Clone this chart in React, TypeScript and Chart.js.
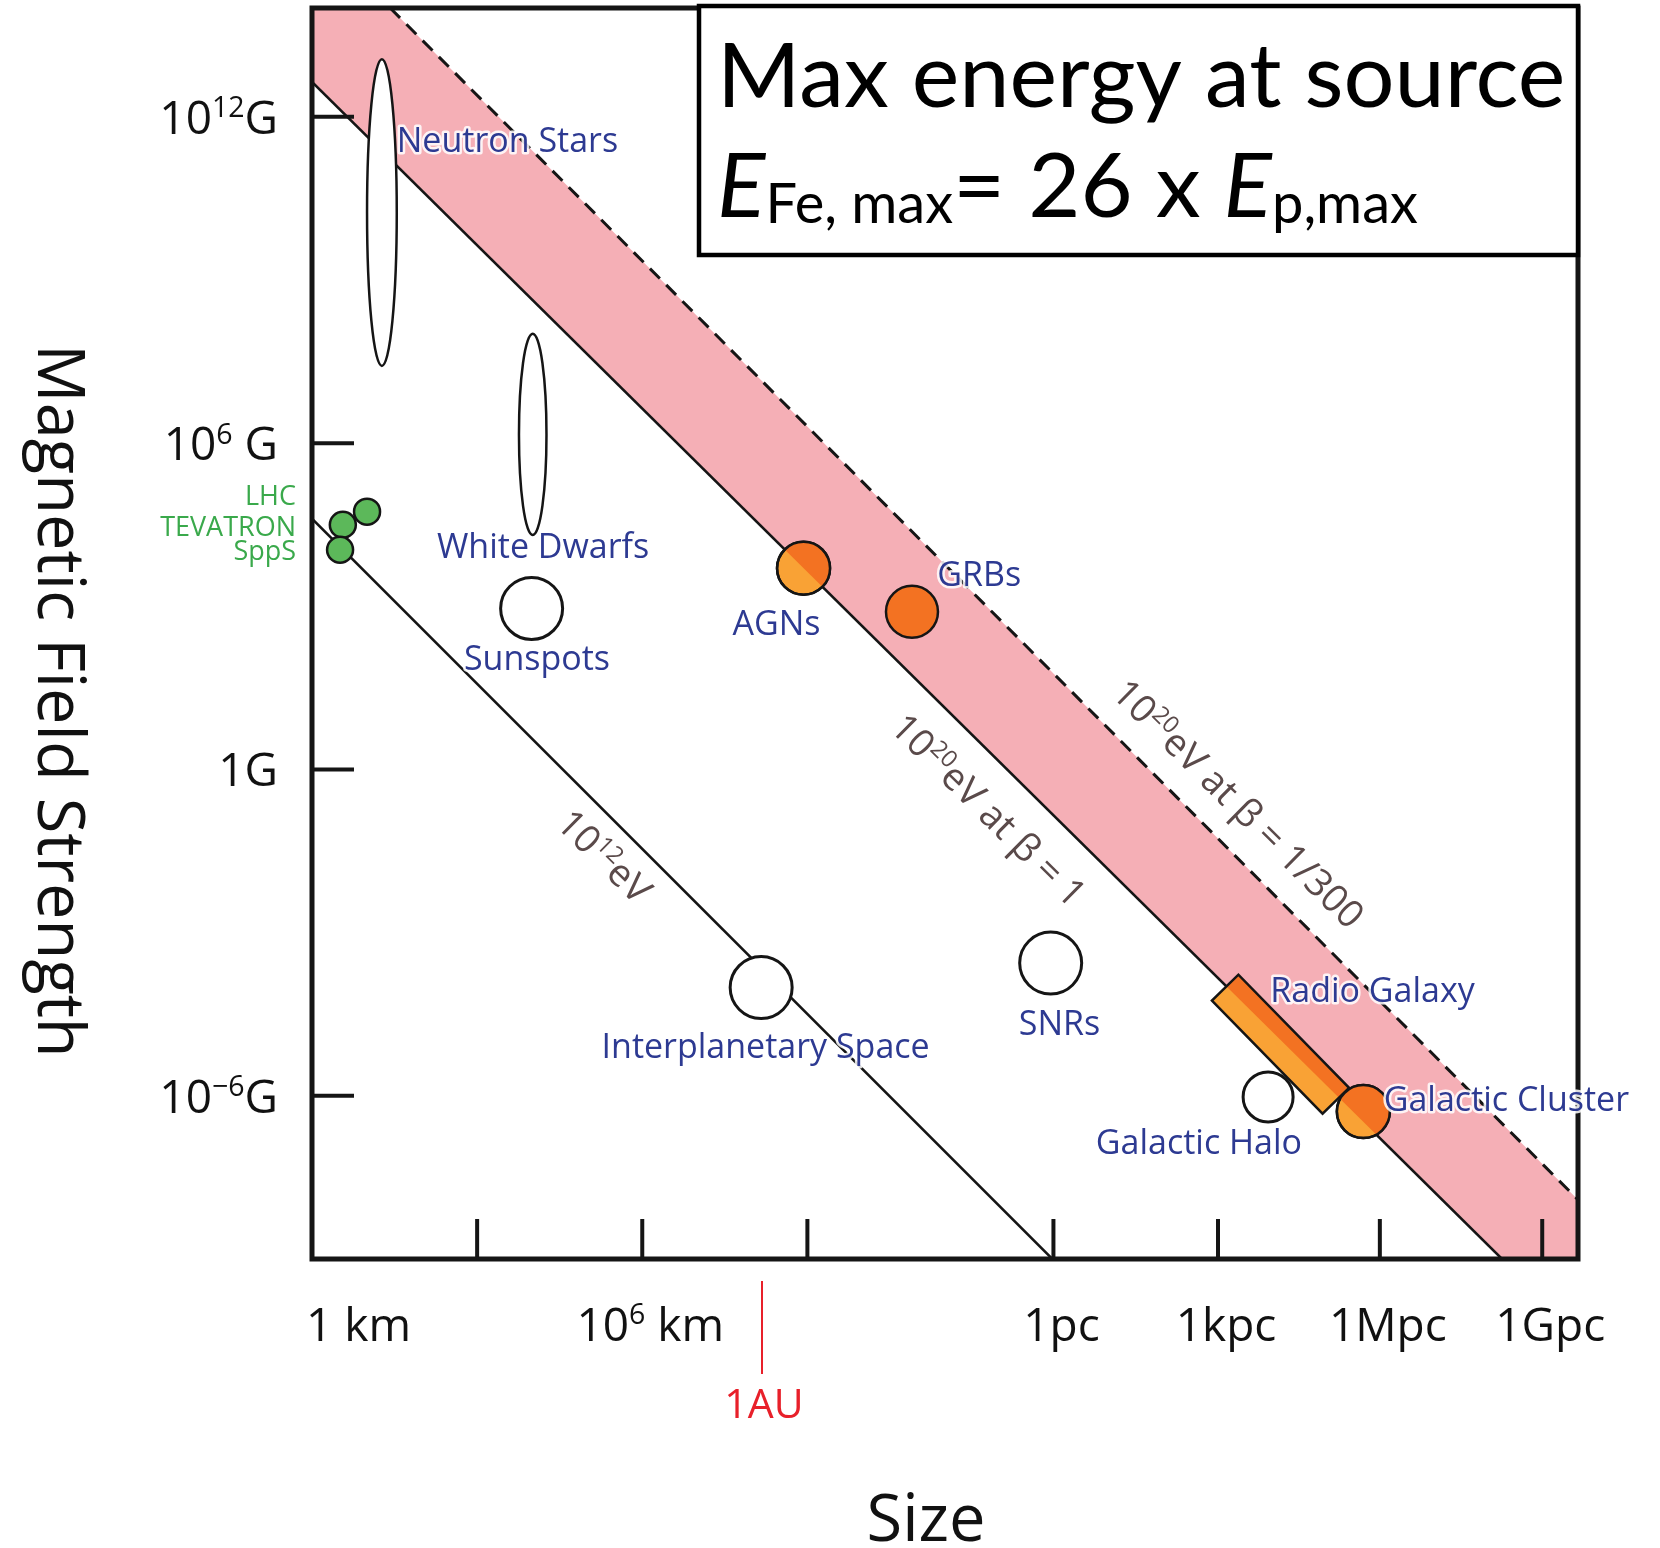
import React, { useEffect, useRef } from 'react';
import { Chart, registerables } from 'chart.js';

Chart.register(...registerables);

// ---------------- data (x = log10(size / km), y = log10(B / gauss)) ----------------
const xLimits = [0, 23];
const yLimits = [-9, 14];

const xTickValues = [0, 3, 6, 9, 13.47, 16.46, 19.4, 22.35];
const xTickLabels = ['1 km', '', '10^{6} km', '', '1pc', '1kpc', '1Mpc', '1Gpc'];
const yTickValues = [12, 6, 0, -6];
const yTickLabels = ['10^{12}G', '10^{6} G', '1G', '10^{−6}G'];

const auValue = 8.175;
const auLabel = '1AU';

const line12eV = [{ x: 0, y: 4.61 }, { x: 13.45, y: -9 }];
const line20eVBeta1 = [{ x: 0, y: 12.64 }, { x: 21.62, y: -9 }];
const line20eVBeta300 = [{ x: 1.42, y: 14 }, { x: 23, y: -7.91 }];

const plainSources = [
  { x: 3.99, y: 2.96 }, // Sunspots
  { x: 8.16, y: -4.01 }, // Interplanetary space
  { x: 13.42, y: -3.56 }, // SNRs
];
const haloSource = [{ x: 17.37, y: -6.02 }];
const accelerators = [
  { x: 0.56, y: 4.5 },
  { x: 1.0, y: 4.74 },
  { x: 0.51, y: 4.04 },
];
const grbSource = [{ x: 10.9, y: 2.9 }];
const mixedSources = [
  { x: 8.93, y: 3.7 }, // AGNs
  { x: 19.1, y: -6.29 }, // Galactic cluster
];

const neutronStarRange = { x: [1.0, 1.54], y: [7.42, 13.06] };
const whiteDwarfRange = { x: [3.76, 4.26], y: [4.31, 8.01] };
const radioGalaxySegment = [{ x: 16.59, y: -4.01 }, { x: 18.6, y: -6.09 }];

const sourceLabels = [
  { text: 'Neutron Stars', x: 1.54, y: 11.36 },
  { text: 'White Dwarfs', x: 2.27, y: 3.89 },
  { text: 'Sunspots', x: 2.76, y: 1.83 },
  { text: 'AGNs', x: 7.64, y: 2.47 },
  { text: 'GRBs', x: 11.36, y: 3.38 },
  { text: 'Interplanetary Space', x: 5.26, y: -5.31 },
  { text: 'SNRs', x: 12.84, y: -4.89 },
  { text: 'Radio Galaxy', x: 17.41, y: -4.28 },
  { text: 'Galactic Cluster', x: 19.47, y: -6.27 },
  { text: 'Galactic Halo', x: 14.24, y: -7.07 },
];
const acceleratorLabels = [
  { text: 'LHC', x: -0.29, y: 4.86 },
  { text: 'TEVATRON', x: -0.29, y: 4.3 },
  { text: 'SppS', x: -0.29, y: 3.86 },
];
const lineLabels = [
  { text: '10^{12}eV', x: 5.32, y: -1.59 },
  { text: '10^{20}eV at β = 1', x: 12.3, y: -0.74 },
  { text: '10^{20}eV at β = 1/300', x: 16.84, y: -0.62 },
];

const xTitle = 'Size';
const yTitle = 'Magnetic Field Strength';
const boxTitle = 'Max energy at source';

// ---------------- styles ----------------
const INK = '#151515';
const PINK = 'rgb(245,175,182)';
const ORANGE_DARK = '#f37222';
const ORANGE_LIGHT = '#f9a235';
const GREEN = '#5cb85a';
const BLUE = '#2d3a92';
const GREEN_TEXT = '#3aa94b';
const GREY_TEXT = '#5a4a4a';
const RED = '#e8202a';
const SANS = '"Open Sans", "Noto Sans", sans-serif';
const GILL = 'Lato, "Open Sans", sans-serif';

type Seg = { t: string; sup?: boolean };
function parseRich(s: string): Seg[] {
  const out: Seg[] = [];
  const re = /\^\{([^}]*)\}/g;
  let last = 0;
  let m: RegExpExecArray | null;
  while ((m = re.exec(s))) {
    if (m.index > last) out.push({ t: s.slice(last, m.index) });
    out.push({ t: m[1], sup: true });
    last = re.lastIndex;
  }
  if (last < s.length) out.push({ t: s.slice(last) });
  return out;
}

function drawRich(
  ctx: CanvasRenderingContext2D,
  s: string,
  x: number,
  y: number,
  size: number,
  family: string,
  align: 'left' | 'center' | 'right',
  halo = false
) {
  const segs = parseRich(s);
  const supSize = size * 0.62;
  const widths = segs.map((sg) => {
    ctx.font = `${sg.sup ? supSize : size}px ${family}`;
    return ctx.measureText(sg.t).width;
  });
  const total = widths.reduce((a, b) => a + b, 0);
  let cx = align === 'left' ? x : align === 'center' ? x - total / 2 : x - total;
  ctx.textAlign = 'left';
  ctx.textBaseline = 'alphabetic';
  segs.forEach((sg, i) => {
    ctx.font = `${sg.sup ? supSize : size}px ${family}`;
    const yy = sg.sup ? y - size * 0.36 : y;
    if (halo) {
      ctx.save();
      ctx.strokeStyle = 'rgba(255,255,255,0.85)';
      ctx.lineWidth = 5;
      ctx.lineJoin = 'round';
      ctx.strokeText(sg.t, cx, yy);
      ctx.restore();
    }
    ctx.fillText(sg.t, cx, yy);
    cx += widths[i];
  });
}

function toPx(chart: any, p: { x: number; y: number }): [number, number] {
  return [chart.scales.x.getPixelForValue(p.x), chart.scales.y.getPixelForValue(p.y)];
}

function bandPath(ctx: CanvasRenderingContext2D, chart: any) {
  const ext = (a: [number, number], b: [number, number]) => {
    const dx = b[0] - a[0];
    const dy = b[1] - a[1];
    return [
      [a[0] - dx, a[1] - dy],
      [b[0] + dx, b[1] + dy],
    ];
  };
  const [a1, a2] = ext(toPx(chart, line20eVBeta1[0]), toPx(chart, line20eVBeta1[1]));
  const [b1, b2] = ext(toPx(chart, line20eVBeta300[0]), toPx(chart, line20eVBeta300[1]));
  ctx.beginPath();
  ctx.moveTo(a1[0], a1[1]);
  ctx.lineTo(a2[0], a2[1]);
  ctx.lineTo(b2[0], b2[1]);
  ctx.lineTo(b1[0], b1[1]);
  ctx.closePath();
}

function drawEllipse(ctx: CanvasRenderingContext2D, chart: any, r: { x: number[]; y: number[] }) {
  const xs = chart.scales.x;
  const ys = chart.scales.y;
  const x0 = xs.getPixelForValue(r.x[0]);
  const x1 = xs.getPixelForValue(r.x[1]);
  const y0 = ys.getPixelForValue(r.y[0]);
  const y1 = ys.getPixelForValue(r.y[1]);
  ctx.beginPath();
  ctx.ellipse((x0 + x1) / 2, (y0 + y1) / 2, Math.abs(x1 - x0) / 2, Math.abs(y1 - y0) / 2, 0, 0, Math.PI * 2);
  ctx.fillStyle = '#ffffff';
  ctx.fill();
  ctx.lineWidth = 2.5;
  ctx.strokeStyle = INK;
  ctx.stroke();
}

const hillasPlugin = {
  id: 'hillas',
  beforeDatasetsDraw(chart: any) {
    const { ctx, chartArea: a } = chart;
    ctx.save();
    ctx.beginPath();
    ctx.rect(a.left, a.top, a.right - a.left, a.bottom - a.top);
    ctx.clip();
    bandPath(ctx, chart);
    ctx.fillStyle = PINK;
    ctx.fill();
    ctx.restore();
  },
  afterDatasetsDraw(chart: any) {
    const { ctx } = chart;
    ctx.save();
    drawEllipse(ctx, chart, neutronStarRange);
    drawEllipse(ctx, chart, whiteDwarfRange);

    // radio galaxy bar
    const p1 = toPx(chart, radioGalaxySegment[0]);
    const p2 = toPx(chart, radioGalaxySegment[1]);
    const len = Math.hypot(p2[0] - p1[0], p2[1] - p1[1]);
    const ux = (p2[0] - p1[0]) / len;
    const uy = (p2[1] - p1[1]) / len;
    const hw = 18.5;
    const nx = -uy * hw;
    const ny = ux * hw;
    const rectPath = () => {
      ctx.beginPath();
      ctx.moveTo(p1[0] + nx, p1[1] + ny);
      ctx.lineTo(p2[0] + nx, p2[1] + ny);
      ctx.lineTo(p2[0] - nx, p2[1] - ny);
      ctx.lineTo(p1[0] - nx, p1[1] - ny);
      ctx.closePath();
    };
    rectPath();
    ctx.fillStyle = ORANGE_LIGHT;
    ctx.fill();
    ctx.save();
    bandPath(ctx, chart);
    ctx.clip();
    rectPath();
    ctx.fillStyle = ORANGE_DARK;
    ctx.fill();
    ctx.restore();
    rectPath();
    ctx.lineWidth = 2.5;
    ctx.strokeStyle = INK;
    ctx.lineJoin = 'miter';
    ctx.stroke();

    // two-tone sources: dark half inside the band
    const meta = chart.getDatasetMeta(0);
    meta.data.forEach((el: any) => {
      const r = el.options.radius;
      ctx.save();
      bandPath(ctx, chart);
      ctx.clip();
      ctx.beginPath();
      ctx.arc(el.x, el.y, r, 0, Math.PI * 2);
      ctx.fillStyle = ORANGE_DARK;
      ctx.fill();
      ctx.restore();
      ctx.beginPath();
      ctx.arc(el.x, el.y, r, 0, Math.PI * 2);
      ctx.lineWidth = 2.5;
      ctx.strokeStyle = INK;
      ctx.stroke();
    });
    ctx.restore();
  },
  afterDraw(chart: any) {
    const { ctx, chartArea: a } = chart;
    const xs = chart.scales.x;
    const ys = chart.scales.y;
    ctx.save();

    // ticks (inward)
    ctx.strokeStyle = INK;
    ctx.lineWidth = 4;
    ctx.lineCap = 'butt';
    yTickValues.forEach((v) => {
      const y = ys.getPixelForValue(v);
      ctx.beginPath();
      ctx.moveTo(a.left, y);
      ctx.lineTo(a.left + 42, y);
      ctx.stroke();
    });
    xTickValues.forEach((v) => {
      if (v === xLimits[0]) return;
      const x = xs.getPixelForValue(v);
      ctx.beginPath();
      ctx.moveTo(x, a.bottom);
      ctx.lineTo(x, a.bottom - 40);
      ctx.stroke();
    });
    // frame
    ctx.lineWidth = 5;
    ctx.lineJoin = 'miter';
    ctx.strokeRect(a.left, a.top, a.right - a.left, a.bottom - a.top);

    // tick labels
    ctx.fillStyle = '#111';
    yTickValues.forEach((v, i) => {
      const y = ys.getPixelForValue(v);
      drawRich(ctx, yTickLabels[i], a.left - 34, y + 17, 46, SANS, 'right');
    });
    xTickValues.forEach((v, i) => {
      if (!xTickLabels[i]) return;
      const x = xs.getPixelForValue(v);
      drawRich(ctx, xTickLabels[i], i === 0 ? x - 6 : x + 8, a.bottom + 82, 46, SANS, i === 0 ? 'left' : 'center');
    });

    // 1 AU marker
    const au = xs.getPixelForValue(auValue);
    ctx.strokeStyle = RED;
    ctx.lineWidth = 2;
    ctx.beginPath();
    ctx.moveTo(au, a.bottom + 22);
    ctx.lineTo(au, a.bottom + 115);
    ctx.stroke();
    ctx.fillStyle = RED;
    drawRich(ctx, auLabel, au + 2, a.bottom + 159, 41, SANS, 'center');

    // axis titles
    ctx.fillStyle = '#111';
    drawRich(ctx, xTitle, 926, 1541, 65, SANS, 'center');
    ctx.save();
    ctx.translate(38, 701);
    ctx.rotate(Math.PI / 2);
    drawRich(ctx, yTitle, 0, 0, 65, SANS, 'center');
    ctx.restore();

    // rotated line labels
    const l1 = toPx(chart, line20eVBeta1[0]);
    const l2 = toPx(chart, line20eVBeta1[1]);
    const ang = Math.atan2(l2[1] - l1[1], l2[0] - l1[0]);
    ctx.fillStyle = GREY_TEXT;
    lineLabels.forEach((lb) => {
      const [px, py] = toPx(chart, lb);
      ctx.save();
      ctx.translate(px, py);
      ctx.rotate(ang);
      drawRich(ctx, lb.text, 0, 38 * 0.36, 38, SANS, 'center');
      ctx.restore();
    });

    // source labels
    ctx.fillStyle = BLUE;
    sourceLabels.forEach((lb) => {
      const [px, py] = toPx(chart, lb);
      drawRich(ctx, lb.text, px, py, 34, SANS, 'left', true);
    });
    ctx.fillStyle = GREEN_TEXT;
    acceleratorLabels.forEach((lb) => {
      const [px, py] = toPx(chart, lb);
      drawRich(ctx, lb.text, px, py, 27, SANS, 'right');
    });

    // info box
    const bx = 699;
    const by = 6;
    const bw = a.right - bx;
    const bh = 249;
    ctx.fillStyle = '#ffffff';
    ctx.fillRect(bx, by, bw, bh);
    ctx.strokeStyle = '#000';
    ctx.lineWidth = 4.5;
    ctx.strokeRect(bx, by, bw, bh);
    ctx.fillStyle = '#000';
    ctx.textAlign = 'left';
    ctx.textBaseline = 'alphabetic';
    ctx.font = `90px ${GILL}`;
    ctx.fillText(boxTitle, 717, 107);

    const segs = [
      { t: 'E', size: 90, italic: true, dy: 0 },
      { t: 'Fe, max', size: 56, italic: false, dy: 6 },
      { t: '= 26 x ', size: 90, italic: false, dy: 0 },
      { t: 'E', size: 90, italic: true, dy: 0 },
      { t: 'p,max', size: 56, italic: false, dy: 6 },
    ];
    let cx = 717;
    segs.forEach((sg) => {
      ctx.font = `${sg.italic ? 'italic ' : ''}${sg.size}px ${GILL}`;
      ctx.fillText(sg.t, cx, 217 + sg.dy);
      cx += ctx.measureText(sg.t).width;
    });

    ctx.restore();
  },
};

export default function App() {
  const canvasRef = useRef<HTMLCanvasElement | null>(null);

  useEffect(() => {
    document.body.style.margin = '0';
    const canvas = canvasRef.current;
    if (!canvas) return;
    const pointBase = { borderColor: INK, borderWidth: 2.5, pointHoverRadius: 0 };
    const chart = new Chart(canvas, {
      type: 'scatter',
      data: {
        datasets: [
          { ...pointBase, data: mixedSources, pointRadius: 26.5, pointBackgroundColor: ORANGE_LIGHT, pointBorderColor: INK, order: 0 } as any,
          { ...pointBase, data: grbSource, pointRadius: 26, pointBackgroundColor: ORANGE_DARK, pointBorderColor: INK, order: 0 } as any,
          { ...pointBase, data: accelerators, pointRadius: 13, pointBackgroundColor: GREEN, pointBorderColor: INK, order: 0 } as any,
          { ...pointBase, data: plainSources, pointRadius: 31, pointBackgroundColor: '#ffffff', pointBorderColor: INK, pointBorderWidth: 3, order: 0 } as any,
          { ...pointBase, data: haloSource, pointRadius: 25, pointBackgroundColor: '#ffffff', pointBorderColor: INK, pointBorderWidth: 3, order: 0 } as any,
          { type: 'line', data: line12eV, borderColor: INK, borderWidth: 2.5, pointRadius: 0, fill: false, order: 5 } as any,
          { type: 'line', data: line20eVBeta1, borderColor: INK, borderWidth: 2.5, pointRadius: 0, fill: false, order: 5 } as any,
          { type: 'line', data: line20eVBeta300, borderColor: INK, borderWidth: 3, borderDash: [14, 9], pointRadius: 0, fill: false, order: 5 } as any,
        ],
      },
      options: {
        responsive: false,
        animation: false,
        devicePixelRatio: 1,
        events: [],
        layout: { autoPadding: false, padding: { left: 312, top: 8, right: 82, bottom: 289 } },
        scales: {
          x: { type: 'linear', min: xLimits[0], max: xLimits[1], display: false },
          y: { type: 'linear', min: yLimits[0], max: yLimits[1], display: false },
        },
        plugins: { legend: { display: false }, tooltip: { enabled: false } },
      } as any,
      plugins: [hillasPlugin],
    });
    let alive = true;
    const fonts = [`34px ${SANS}`, `90px ${GILL}`, `italic 90px ${GILL}`];
    Promise.all(fonts.map((f) => (document as any).fonts.load(f)))
      .then(() => {
        if (alive) chart.draw();
      })
      .catch(() => {});
    return () => {
      alive = false;
      chart.destroy();
    };
  }, []);

  return (
    <div style={{ width: 1660, height: 1548, position: 'relative', background: '#fff' }}>
      <canvas ref={canvasRef} width={1660} height={1548} style={{ display: 'block' }} />
    </div>
  );
}
